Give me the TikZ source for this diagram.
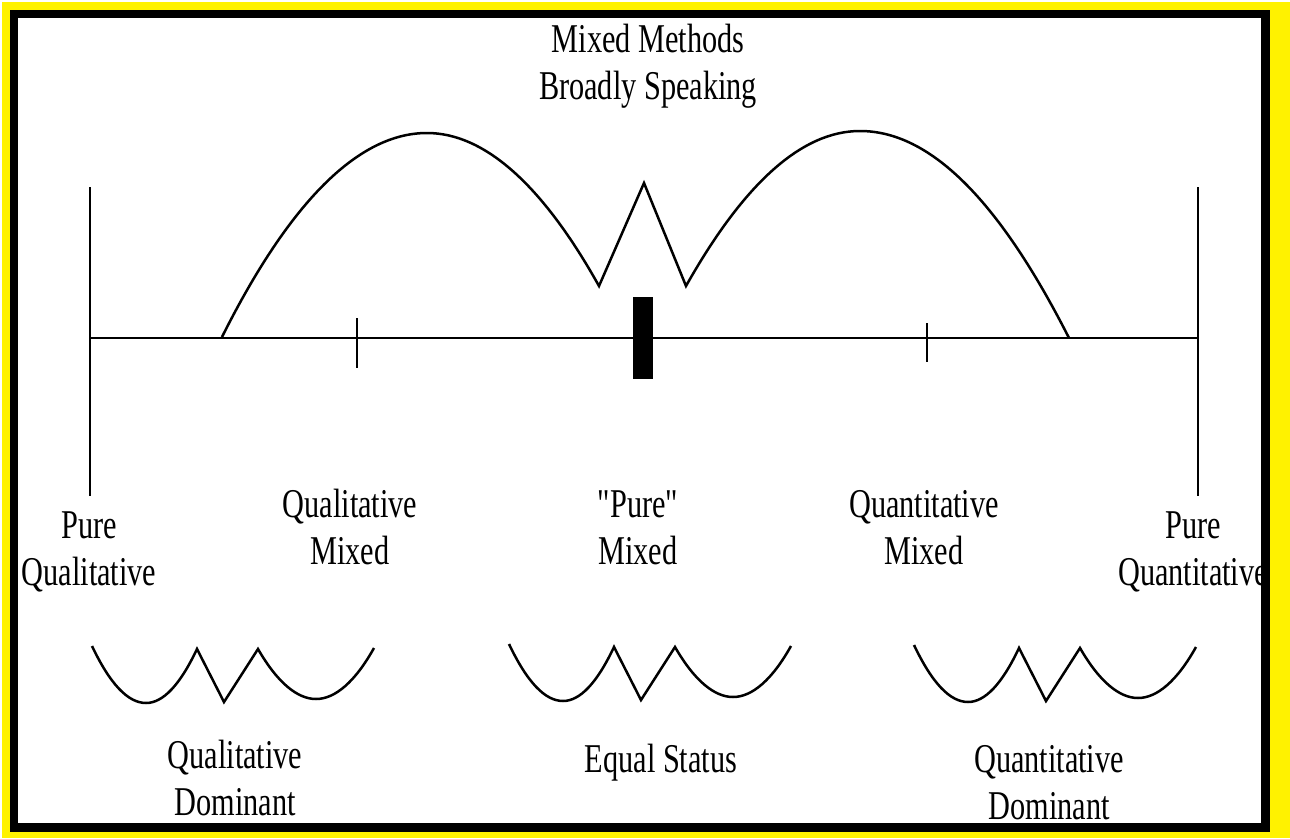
\documentclass[tikz,border=0pt]{standalone}
\usepackage{fontspec}
\setmainfont{Liberation Serif}[Ligatures=TeXOff]
\usepackage{graphicx}
\newcommand{\tallbox}[1]{\scalebox{1}[1.35]{\begin{tabular}{@{}c@{}}#1\end{tabular}}}
\begin{document}
\begin{tikzpicture}[x=1pt,y=-1pt,
  lbl/.style={inner sep=0pt, font=\fontsize{30.3}{34.8}\selectfont},
  curve/.style={line width=2.5pt, line join=miter},
  axis/.style={line width=2.2pt},
  wshape/.pic={\draw[curve] (0,0) .. controls (18,38) and (36,57) .. (54,57)
      .. controls (71,57) and (88,39) .. (105,3) -- (132,56) -- (166,3)
      .. controls (185,36) and (205,53) .. (224,53)
      .. controls (243,53) and (263,36) .. (282,2);}]
\useasboundingbox (0,0) rectangle (1290,838);
\fill[white] (0,0) rectangle (1290,838);
\fill[yellow] (2,2) rectangle (1290,838);
\fill[black] (10,10) rectangle (1270,832);
\fill[white] (18,18) rectangle (1261,823);

% axis
\coordinate (L) at (90,338);
\coordinate (R) at (1198,338);
\draw[axis] (L) -- (R);
\draw[axis] (90,187) -- (90,496);
\draw[axis] (1198,187) -- (1198,496);
\draw[axis] (357,318) -- (357,368);
\draw[axis] (927,323) -- (927,362);
\fill[black] (633,297) rectangle (653,379);

% big curve
\draw[curve] (222,337) .. controls (290,201) and (359,133) .. (427,133)
  .. controls (484,133) and (542,184) .. (599,286) -- (644,183) -- (686,286)
  .. controls (744,183) and (802,131) .. (860,131)
  .. controls (930,131) and (999,200) .. (1069,338);

% bottom W shapes
\pic at (92,646) {wshape};
\pic at (509,644) {wshape};
\pic at (914,645) {wshape};

% labels
\node[lbl] (title) at (648,67) {\tallbox{Mixed Methods\\Broadly Speaking}};
\node[lbl] (pql) at (89,553) {\tallbox{Pure\\Qualitative}};
\node[lbl] (qlm) at (350,532) {\tallbox{Qualitative\\Mixed}};
\node[lbl] (pm) at (638,532) {\tallbox{"Pure"\\Mixed}};
\node[lbl] (qnm) at (924,532) {\tallbox{Quantitative\\Mixed}};
\node[lbl] (pqn) at (1193,553) {\tallbox{Pure\\Quantitative}};
\node[lbl] (qld) at (235,783) {\tallbox{Qualitative\\Dominant}};
\node[lbl] (eq) at (661,763) {\tallbox{Equal Status}};
\node[lbl] (qnd) at (1049,787) {\tallbox{Quantitative\\Dominant}};
\end{tikzpicture}
\end{document}
